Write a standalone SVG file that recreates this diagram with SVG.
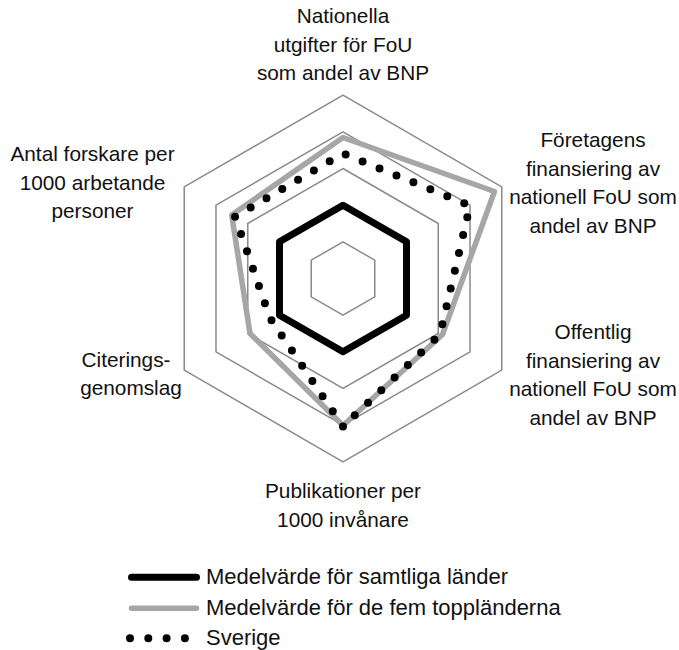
<svg xmlns="http://www.w3.org/2000/svg" width="679" height="650" viewBox="0 0 679 650">
<style>
.grid{fill:none;stroke:#8a8a8a;stroke-width:1.5}
.lbl{font-family:"Liberation Sans",Arial,sans-serif;font-size:20.8px;fill:#111;text-anchor:middle}
.leg{font-family:"Liberation Sans",Arial,sans-serif;font-size:22px;fill:#111}
.avg{fill:none;stroke:#000;stroke-width:7;stroke-linejoin:round;stroke-linecap:round}
.top5{fill:none;stroke:#a6a6a6;stroke-width:5.5;stroke-linejoin:round;stroke-linecap:round}
.swe{fill:none;stroke:#000;stroke-width:8;stroke-linecap:round;stroke-dasharray:0 18.3}
</style>
<rect width="679" height="650" fill="#fff"/>
<g id="grid">
<polygon class="grid" points="343,241.83 374.76,260.17 374.76,296.83 343,315.17 311.24,296.83 311.24,260.17"/>
<polygon class="grid" points="343,205.17 406.51,241.83 406.51,315.17 343,351.83 279.49,315.17 279.49,241.83"/>
<polygon class="grid" points="343,168.5 438.26,223.5 438.26,333.5 343,388.5 247.74,333.5 247.74,223.5"/>
<polygon class="grid" points="343,131.83 470.02,205.17 470.02,351.83 343,425.17 215.98,351.83 215.98,205.17"/>
<polygon class="grid" points="343,95.17 501.77,186.83 501.77,370.17 343,461.83 184.23,370.17 184.23,186.83"/>
</g>
<g id="series">
<polygon id="series-avg" class="avg" points="343,205.17 406.51,241.83 406.51,315.17 343,351.83 279.49,315.17 279.49,241.83"/>
<polygon id="series-top5" class="top5" points="343,137.5 494.5,191.5 442.5,334.5 343,425.5 250,333.5 231.7,215"/>
<path id="series-swe" class="swe" d="M343,426.5 L270,318 L235,216.6 L343,153.5 L470,205.5 L440,334.5 Z"/>
</g>
<g id="axis-labels">
<text class="lbl" x="343" y="23">Nationella</text>
<text class="lbl" x="343" y="51.5">utgifter för FoU</text>
<text class="lbl" x="343" y="80">som andel av BNP</text>
<text class="lbl" x="593" y="147">Företagens</text>
<text class="lbl" x="593" y="175.5">finansiering av</text>
<text class="lbl" x="593" y="204">nationell FoU som</text>
<text class="lbl" x="593" y="232.5">andel av BNP</text>
<text class="lbl" x="593" y="339">Offentlig</text>
<text class="lbl" x="593" y="367.5">finansiering av</text>
<text class="lbl" x="593" y="396">nationell FoU som</text>
<text class="lbl" x="593" y="424.5">andel av BNP</text>
<text class="lbl" x="343" y="498">Publikationer per</text>
<text class="lbl" x="343" y="526.5">1000 invånare</text>
<text class="lbl" x="126" y="366.5">Citerings-</text>
<text class="lbl" x="131" y="395">genomslag</text>
<text class="lbl" x="92.5" y="161">Antal forskare per</text>
<text class="lbl" x="92.5" y="189.5">1000 arbetande</text>
<text class="lbl" x="92.5" y="218">personer</text>
</g>
<g id="legend">
<line x1="131.5" y1="577.3" x2="196.5" y2="577.3" class="avg"/>
<text class="leg" x="206" y="584">Medelvärde för samtliga länder</text>
<line x1="131.5" y1="608.3" x2="196.5" y2="608.3" class="top5"/>
<text class="leg" x="206" y="614.5">Medelvärde för de fem toppländerna</text>
<path d="M130,638.3 L186,638.3" class="swe"/>
<text class="leg" x="206" y="645">Sverige</text>
</g>
</svg>
